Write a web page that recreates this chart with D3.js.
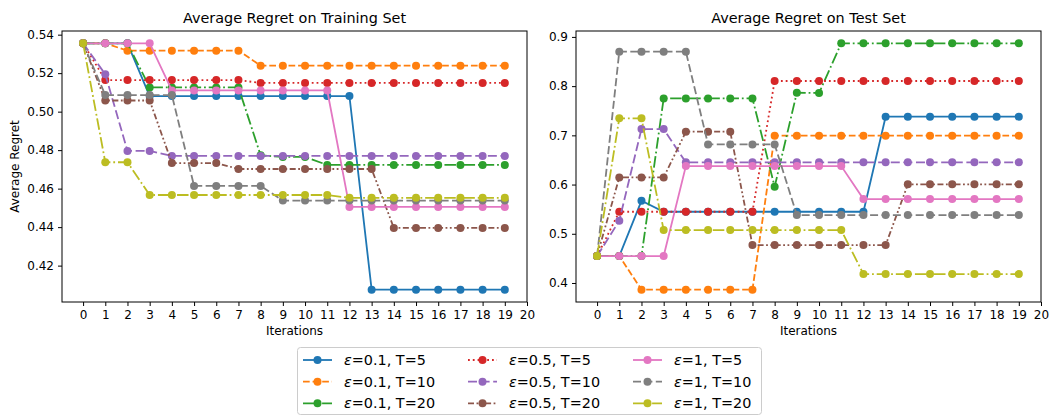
<!DOCTYPE html>
<html>
<head>
<meta charset="utf-8">
<script src="https://cdn.jsdelivr.net/npm/d3@7"></script>
<style>
body { margin: 0; background: #fff; }
svg text { font-family: "DejaVu Sans", sans-serif; fill: #000; }
</style>
</head>
<body>
<div id="chart"></div>
<script>
// iterations on the x axis and tick labels
var iterations = [0,1,2,3,4,5,6,7,8,9,10,11,12,13,14,15,16,17,18,19];
var xTicks = [0,1,2,3,4,5,6,7,8,9,10,11,12,13,14,15,16,17,18,19,20];
var trainTicks = [0.42,0.44,0.46,0.48,0.50,0.52,0.54];
var testTicks = [0.4,0.5,0.6,0.7,0.8,0.9];

var seriesNames = ["ε=0.1, T=5","ε=0.1, T=10","ε=0.1, T=20",
                   "ε=0.5, T=5","ε=0.5, T=10","ε=0.5, T=20",
                   "ε=1, T=5","ε=1, T=10","ε=1, T=20"];

// training set regret, one array per run
var trainE01T5  = [0.5355,0.5355,0.5355,0.5081,0.5081,0.5081,0.5081,0.5081,0.5081,0.5081,0.5081,0.5081,0.5081,0.4075,0.4075,0.4075,0.4075,0.4075,0.4075,0.4075];
var trainE01T10 = [0.5355,0.5355,0.5317,0.5317,0.5317,0.5317,0.5317,0.5317,0.5239,0.5239,0.5239,0.5239,0.5239,0.5239,0.5239,0.5239,0.5239,0.5239,0.5239,0.5239];
var trainE01T20 = [0.5355,0.5355,0.5355,0.5126,0.5126,0.5126,0.5126,0.5126,0.4773,0.4765,0.4765,0.4723,0.4723,0.4723,0.4723,0.4723,0.4723,0.4723,0.4723,0.4723];
var trainE05T5  = [0.5355,0.5164,0.5164,0.5164,0.5164,0.5164,0.5164,0.5164,0.5149,0.5149,0.5149,0.5149,0.5149,0.5149,0.5149,0.5149,0.5149,0.5149,0.5149,0.5149];
var trainE05T10 = [0.5355,0.5194,0.4796,0.4796,0.4770,0.4770,0.4770,0.4770,0.4770,0.4770,0.4770,0.4770,0.4770,0.4770,0.4770,0.4770,0.4770,0.4770,0.4770,0.4770];
var trainE05T20 = [0.5355,0.5058,0.5058,0.5058,0.4733,0.4733,0.4733,0.4702,0.4702,0.4702,0.4702,0.4702,0.4702,0.4702,0.4396,0.4396,0.4396,0.4396,0.4396,0.4396];
var trainE1T5   = [0.5355,0.5355,0.5355,0.5355,0.5110,0.5110,0.5110,0.5110,0.5110,0.5110,0.5110,0.5110,0.4505,0.4505,0.4505,0.4505,0.4505,0.4505,0.4505,0.4505];
var trainE1T10  = [0.5355,0.5086,0.5086,0.5086,0.5086,0.4614,0.4614,0.4614,0.4614,0.4538,0.4538,0.4538,0.4538,0.4538,0.4538,0.4538,0.4538,0.4538,0.4538,0.4538];
var trainE1T20  = [0.5355,0.4737,0.4737,0.4567,0.4567,0.4567,0.4567,0.4567,0.4567,0.4567,0.4567,0.4567,0.4552,0.4552,0.4552,0.4552,0.4552,0.4552,0.4552,0.4552];

// test set regret
var testE01T5  = [0.4547,0.4547,0.5670,0.5448,0.5448,0.5448,0.5448,0.5448,0.5448,0.5448,0.5448,0.5448,0.5448,0.7379,0.7379,0.7379,0.7379,0.7379,0.7379,0.7379];
var testE01T10 = [0.4547,0.4547,0.3864,0.3864,0.3864,0.3864,0.3864,0.3864,0.6993,0.6993,0.6993,0.6993,0.6993,0.6993,0.6993,0.6993,0.6993,0.6993,0.6993,0.6993];
var testE01T20 = [0.4547,0.4547,0.4547,0.7751,0.7751,0.7751,0.7751,0.7751,0.5956,0.7867,0.7860,0.8870,0.8870,0.8870,0.8870,0.8870,0.8870,0.8870,0.8870,0.8870];
var testE05T5  = [0.4547,0.5448,0.5448,0.5448,0.5448,0.5448,0.5448,0.5448,0.8104,0.8104,0.8104,0.8104,0.8104,0.8104,0.8104,0.8104,0.8104,0.8104,0.8104,0.8104];
var testE05T10 = [0.4547,0.5265,0.7128,0.7128,0.6451,0.6451,0.6451,0.6451,0.6451,0.6451,0.6451,0.6451,0.6451,0.6451,0.6451,0.6451,0.6451,0.6451,0.6451,0.6451];
var testE05T20 = [0.4547,0.6146,0.6146,0.6146,0.7074,0.7074,0.7074,0.4770,0.4770,0.4770,0.4770,0.4770,0.4770,0.4770,0.6004,0.6004,0.6004,0.6004,0.6004,0.6004];
var testE1T5   = [0.4547,0.4547,0.4547,0.4547,0.6376,0.6376,0.6376,0.6376,0.6376,0.6376,0.6376,0.6376,0.5705,0.5705,0.5705,0.5705,0.5705,0.5705,0.5705,0.5705];
var testE1T10  = [0.4547,0.8700,0.8700,0.8700,0.8700,0.6816,0.6816,0.6816,0.6816,0.5380,0.5380,0.5380,0.5380,0.5380,0.5380,0.5380,0.5380,0.5380,0.5380,0.5380];
var testE1T20  = [0.4547,0.7345,0.7345,0.5075,0.5075,0.5075,0.5075,0.5075,0.5075,0.5075,0.5075,0.5075,0.4181,0.4181,0.4181,0.4181,0.4181,0.4181,0.4181,0.4181];

var trainSeries = [trainE01T5,trainE01T10,trainE01T20,trainE05T5,trainE05T10,trainE05T20,trainE1T5,trainE1T10,trainE1T20];
var testSeries  = [testE01T5,testE01T10,testE01T20,testE05T5,testE05T10,testE05T20,testE1T5,testE1T10,testE1T20];

// styles
var colors = ["#1f77b4","#ff7f0e","#2ca02c","#d62728","#9467bd","#8c564b","#e377c2","#7f7f7f","#bcbd22"];
var dashes = [null, "6.7,2.9", "11.5,2.9,1.8,2.9", "1.8,3", "9,3.6", "6,2.5,1.8,2.5,1.8,2.5", null, "8,3.4", "11.5,2.9,1.8,2.9"];

var W = 1050, H = 416;
var axTop = 31, axBottom = 302;
var panels = [
  {left: 62,  right: 527,  title: "Average Regret on Training Set", data: trainSeries, ticks: trainTicks, fmt: d3.format(".2f"), ylabel: true},
  {left: 576, right: 1041, title: "Average Regret on Test Set",     data: testSeries,  ticks: testTicks,  fmt: d3.format(".1f"), ylabel: false}
];

var svg = d3.select("#chart").append("svg")
    .attr("width", W)
    .attr("height", H);

panels.forEach(function(p) {
  var x = d3.scaleLinear().domain([-0.95, 20]).range([p.left, p.right]);
  var all = d3.merge(p.data);
  var ext = d3.extent(all);
  var pad = (ext[1] - ext[0]) * 0.05;
  var y = d3.scaleLinear().domain([ext[0] - pad, ext[1] + pad]).range([axBottom, axTop]);

  var g = svg.append("g");

  // series: line then markers, drawn in order
  var line = d3.line()
      .x(function(d, i) { return x(iterations[i]); })
      .y(function(d) { return y(d); });

  p.data.forEach(function(s, k) {
    var sg = g.append("g");
    sg.append("path")
      .datum(s)
      .attr("d", line)
      .attr("fill", "none")
      .attr("stroke", colors[k])
      .attr("stroke-width", 1.8)
      .attr("stroke-dasharray", dashes[k]);
    sg.selectAll("circle")
      .data(s)
      .enter().append("circle")
        .attr("cx", function(d, i) { return x(iterations[i]); })
        .attr("cy", function(d) { return y(d); })
        .attr("r", 4)
        .attr("fill", colors[k]);
  });

  // frame
  g.append("rect")
    .attr("x", p.left).attr("y", axTop)
    .attr("width", p.right - p.left).attr("height", axBottom - axTop)
    .attr("fill", "none").attr("stroke", "#000").attr("stroke-width", 1);

  // x axis
  var xa = g.append("g").attr("transform", "translate(0," + axBottom + ")")
    .call(d3.axisBottom(x).tickValues(xTicks).tickSize(4).tickPadding(4).tickFormat(d3.format("d")));
  xa.select(".domain").remove();
  xa.selectAll("text").attr("font-size", 12).style("font-family", "DejaVu Sans");

  // y axis
  var ya = g.append("g").attr("transform", "translate(" + p.left + ",0)")
    .call(d3.axisLeft(y).tickValues(p.ticks).tickSize(4).tickPadding(4).tickFormat(p.fmt));
  ya.select(".domain").remove();
  ya.selectAll("text").attr("font-size", 12).style("font-family", "DejaVu Sans");

  // titles
  g.append("text")
    .attr("x", (p.left + p.right) / 2)
    .attr("y", 23)
    .attr("text-anchor", "middle")
    .attr("font-size", 14.4)
    .text(p.title);

  g.append("text")
    .attr("x", (p.left + p.right) / 2)
    .attr("y", 335)
    .attr("text-anchor", "middle")
    .attr("font-size", 12)
    .text("Iterations");

  if (p.ylabel) {
    g.append("text")
      .attr("transform", "translate(19," + ((axTop + axBottom) / 2) + ") rotate(-90)")
      .attr("text-anchor", "middle")
      .attr("font-size", 12)
      .text("Average Regret");
  }
});

// legend, 3 columns filled column-wise
var legend = svg.append("g");
legend.append("rect")
  .attr("x", 297.5).attr("y", 347.5)
  .attr("width", 464).attr("height", 67)
  .attr("rx", 3)
  .attr("fill", "#fff").attr("fill-opacity", 0.8)
  .attr("stroke", "#cccccc").attr("stroke-width", 1);

var colX = [303, 468, 633];
var rowY = [360, 381.7, 403.3];

seriesNames.forEach(function(name, k) {
  var cx = colX[Math.floor(k / 3)], cy = rowY[k % 3];
  var item = legend.append("g");
  item.append("line")
    .attr("x1", cx).attr("x2", cx + 29)
    .attr("y1", cy).attr("y2", cy)
    .attr("stroke", colors[k]).attr("stroke-width", 1.8)
    .attr("stroke-dasharray", dashes[k]);
  item.append("circle")
    .attr("cx", cx + 14.5).attr("cy", cy).attr("r", 4)
    .attr("fill", colors[k]);
  var t = item.append("text")
    .attr("x", cx + 41).attr("y", cy)
    .attr("dy", "0.35em")
    .attr("font-size", 14.4);
  t.append("tspan").attr("font-style", "italic").text(name.slice(0, 1));
  t.append("tspan").text(name.slice(1));
});
</script>
</body>
</html>
